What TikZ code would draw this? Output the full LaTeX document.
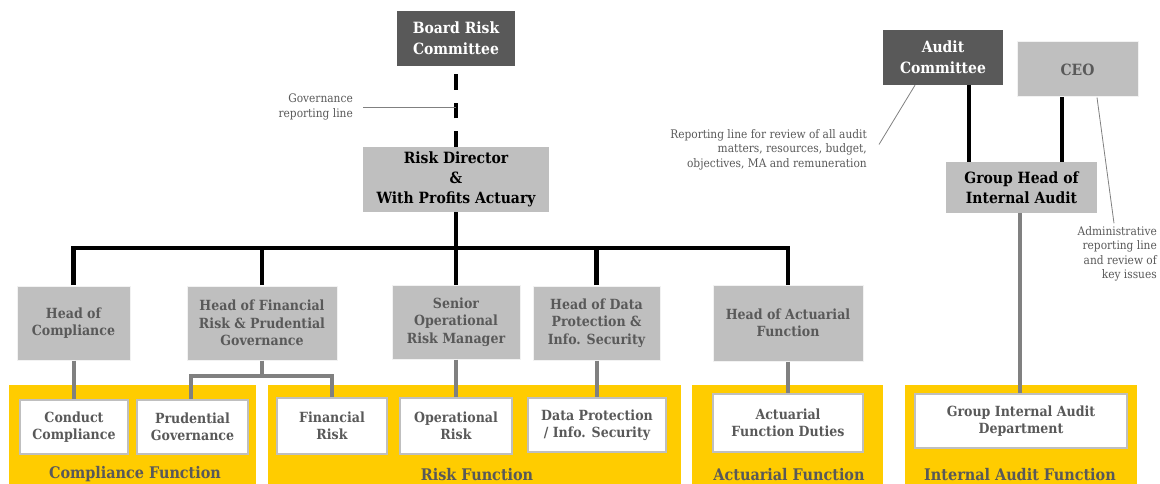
\documentclass[tikz,border=0pt]{standalone}
\usepackage{fontspec}
\setmainfont{DejaVu Serif Condensed}
\definecolor{boxdark}{HTML}{595959}
\definecolor{boxgrey}{HTML}{BFBFBF}
\definecolor{txtgrey}{HTML}{595959}
\definecolor{linegrey}{HTML}{808080}
\definecolor{fngold}{HTML}{FFCC00}
\begin{document}
\begin{tikzpicture}[x=1pt,y=-1pt,
    box/.style={rectangle,inner sep=0pt,align=center,font=\bfseries\fontsize{14}{17.5}\selectfont},
    dark/.style={box,fill=boxdark,text=white,font=\bfseries\fontsize{15.5}{21}\selectfont},
    head/.style={box,fill=boxgrey,draw=white!80!boxgrey,line width=1pt,text=txtgrey},
    chief/.style={box,fill=boxgrey,text=black,font=\bfseries\fontsize{15.5}{20}\selectfont},
    leaf/.style={box,fill=white,draw=boxgrey,line width=1.2pt,text=txtgrey},
    band/.style={rectangle,inner sep=0pt,fill=fngold},
    fnlabel/.style={text=txtgrey,inner sep=0pt,font=\bfseries\fontsize{16}{18}\selectfont},
    note/.style={text=txtgrey,align=right,anchor=east,inner sep=0pt,font=\fontsize{11.8}{14.5}\selectfont},
    topline/.style={line width=4.5pt},
    subline/.style={linegrey,line width=4pt},
    leader/.style={linegrey,line width=0.8pt}]
  \useasboundingbox (0,0) rectangle (1160,484);

  % function bands
  \node[band,minimum width=247,minimum height=99] (bcomp) at (132.5,434.5) {};
  \node[band,minimum width=413,minimum height=99] (brisk) at (474.5,434.5) {};
  \node[band,minimum width=191,minimum height=99] (bact) at (787.5,434.5) {};
  \node[band,minimum width=232,minimum height=99] (bia) at (1021,434.5) {};
  \node[fnlabel] (fcomp) at (135,474) {Compliance Function};
  \node[fnlabel] (frisk) at (477,475) {Risk Function};
  \node[fnlabel] (fact) at (789,475) {Actuarial Function};
  \node[fnlabel] (fia) at (1020,475) {Internal Audit Function};

  % committees and directors
  \node[dark,minimum width=118,minimum height=55] (brc) at (456,38.5) {Board Risk\\Committee};
  \node[chief,minimum width=186,minimum height=65] (rd) at (456,179.5) {Risk Director\\\&\\With Profits Actuary};
  \node[dark,minimum width=120,minimum height=55] (ac) at (943,57.5) {Audit\\Committee};
  \node[head,minimum width=121,minimum height=55,font=\bfseries\fontsize{15.5}{20}\selectfont] (ceo) at (1077.5,69.5) {CEO};
  \node[chief,minimum width=151,minimum height=51] (ghia) at (1021.5,187.5) {Group Head of\\Internal Audit};

  % heads
  \coordinate (bar) at (456,248);
  \draw[topline] (rd.south) -- (456,285);
  \draw[topline] (73.5,285) |- (bar) -| (788,285);
  \foreach \x in {262,596.5}
    \draw[topline] (\x,285) -- (\x,248);
  \node[head,minimum width=113,minimum height=74] (hoc) at (73.5,323) {Head of\\Compliance};
  \node[head,minimum width=150,minimum height=74] (hfr) at (262,323) {Head of Financial\\Risk \& Prudential\\Governance};
  \node[head,minimum width=128,minimum height=74] (sorm) at (456,322) {Senior\\Operational\\Risk Manager};
  \node[head,minimum width=127,minimum height=74] (hdp) at (596.5,323) {Head of Data\\Protection \&\\Info. Security};
  \node[head,minimum width=150,minimum height=76] (hoa) at (788,323) {Head of Actuarial\\Function};
  \draw[topline,dash pattern=on 15.5pt off 13pt] (brc.south |- rd.north) -- (brc.south);
  \draw[topline] ([xshift=26pt]ac.south) -- ([xshift=26pt]ac.south |- ghia.north);
  \draw[topline] ([xshift=-15.5pt]ceo.south) -- ([xshift=-15.5pt]ceo.south |- ghia.north);

  % teams
  \coordinate (split) at (262,376);
  \draw[subline] (hoc.south) -- (73.5,400);
  \draw[subline] (hfr.south) -- (split);
  \draw[subline] (191,400) |- (split) -| (332,398);
  \draw[subline] (sorm.south) -- (456,398);
  \draw[subline] (hdp.south) -- (596.5,398);
  \draw[subline] (hoa.south) -- (788,394);
  \draw[subline] ([xshift=-1.5pt]ghia.south) -- (1020,394);
  \node[leaf,minimum width=108,minimum height=54] (cc) at (74,427) {Conduct\\Compliance};
  \node[leaf,minimum width=111,minimum height=54] (pg) at (192.5,427) {Prudential\\Governance};
  \node[leaf,minimum width=110,minimum height=56] (fr) at (332,426) {Financial\\Risk};
  \node[leaf,minimum width=112,minimum height=56] (opr) at (456,426) {Operational\\Risk};
  \node[leaf,minimum width=138,minimum height=54] (dp) at (597,425) {Data Protection\\/ Info. Security};
  \node[leaf,minimum width=150,minimum height=58] (afd) at (788,423) {Actuarial\\Function Duties};
  \node[leaf,minimum width=212,minimum height=54] (gia) at (1021,421) {Group Internal Audit\\Department};

  % notes
  \node[note] (gov) at (353,107) {Governance\\reporting line};
  \node[note] (rep) at (867,149.5) {Reporting line for review of all audit\\matters, resources, budget,\\objectives, MA and remuneration};
  \node[note] (adm) at (1157,254) {Administrative\\reporting line\\and review of\\key issues};
  \draw[leader] ([xshift=10pt]gov.east) -- (gov.east -| brc.south);
  \draw[leader] ([xshift=12pt,yshift=5pt]rep.east) -- ([xshift=-28pt]ac.south);
  \draw[leader] ([xshift=19.5pt]ceo.south) -- ([xshift=-43pt,yshift=3pt]adm.north east);
\end{tikzpicture}
\end{document}
